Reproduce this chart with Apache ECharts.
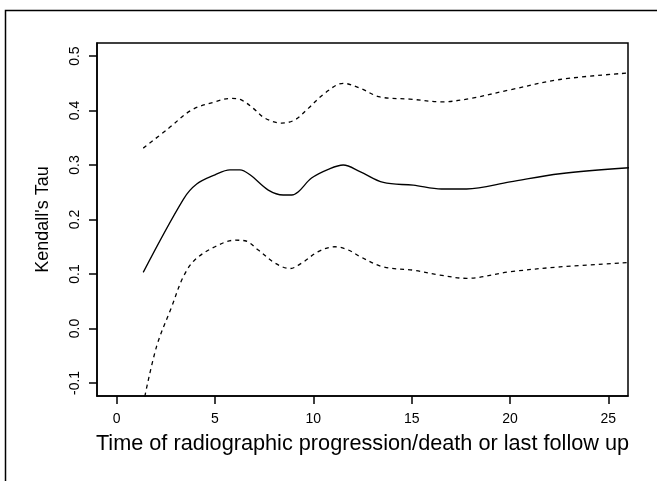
<!DOCTYPE html>
<html>
<head>
<meta charset="utf-8">
<script src="https://cdn.jsdelivr.net/npm/echarts@6/dist/echarts.min.js"></script>
<style>
html,body{margin:0;padding:0;background:#fff;}
#chart{width:657px;height:481px;}
</style>
</head>
<body>
<div id="chart"></div>
<script>
// Estimate of Kendall's tau (solid) with pointwise confidence band (dashed)
const tauX   = [1.35, 3.39, 4.07, 5.0, 5.76, 6.27, 6.78, 7.71, 8.47, 8.90, 9.24, 9.91, 10.76, 11.52, 12.37, 13.56, 15.08, 16.52, 17.79, 20.0, 22.54, 26.05];
const tauY   = [0.103, 0.237, 0.265, 0.282, 0.291, 0.291, 0.282, 0.254, 0.245, 0.245, 0.251, 0.276, 0.292, 0.300, 0.288, 0.268, 0.263, 0.256, 0.256, 0.269, 0.284, 0.295];
const upperX = [1.35, 2.63, 3.81, 5.0, 5.85, 6.36, 6.95, 7.54, 8.39, 9.07, 9.74, 10.59, 11.52, 12.37, 13.39, 14.91, 16.52, 17.96, 20.0, 22.54, 26.05];
const upperY = [0.331, 0.367, 0.401, 0.416, 0.4225, 0.419, 0.404, 0.386, 0.377, 0.383, 0.404, 0.432, 0.450, 0.441, 0.425, 0.421, 0.416, 0.422, 0.438, 0.457, 0.469];
const lowerX = [1.35, 2.03, 2.80, 3.39, 3.98, 5.0, 6.02, 6.52, 7.20, 8.05, 8.81, 9.41, 10.25, 11.10, 11.78, 12.37, 13.56, 15.08, 16.44, 17.79, 20.0, 22.54, 26.05];
const lowerY = [-0.139, -0.033, 0.040, 0.095, 0.126, 0.150, 0.162, 0.161, 0.144, 0.120, 0.110, 0.120, 0.141, 0.150, 0.144, 0.132, 0.113, 0.107, 0.098, 0.092, 0.104, 0.113, 0.121];

const xTicks = [0, 5, 10, 15, 20, 25];
const yTicks = [-0.1, 0.0, 0.1, 0.2, 0.3, 0.4, 0.5];
const xTitle = 'Time of radiographic progression/death or last follow up';
const yTitle = "Kendall's Tau";

function zip(xs, ys){ return xs.map((x,i)=>[x, ys[i]]); }

const FONT = '"Liberation Sans", Arial, Helvetica, sans-serif';
const chart = echarts.init(document.getElementById('chart'), null, {renderer:'canvas'});
chart.setOption({
  animation: false,
  backgroundColor: '#ffffff',
  graphic: [{
    type: 'rect', silent: true,
    shape: {x: 5.5, y: 10.5, width: 720, height: 520},
    style: {fill: 'none', stroke: '#000', lineWidth: 1.5}
  }],
  grid: {left: 97, right: 29, top: 43, bottom: 85, show: true, borderColor: '#000', borderWidth: 1.5, backgroundColor: 'transparent'},
  xAxis: {
    type: 'value', min: -1, max: 26,
    axisLine: {show: true, onZero: false, lineStyle: {color: '#000', width: 1.5}},
    axisTick: {show: true, customValues: xTicks, length: 8, lineStyle: {color: '#000', width: 1.5}},
    axisLabel: {show: true, customValues: xTicks, color: '#000', fontSize: 14, fontFamily: FONT, margin: 16},
    splitLine: {show: false},
    name: xTitle, nameLocation: 'middle', nameGap: 37,
    nameTextStyle: {color: '#000', fontSize: 21.7, fontFamily: FONT}
  },
  yAxis: {
    type: 'value', min: -0.124, max: 0.524,
    axisLine: {show: true, onZero: false, lineStyle: {color: '#000', width: 1.5}},
    axisTick: {show: true, customValues: yTicks, length: 8, lineStyle: {color: '#000', width: 1.5}},
    axisLabel: {show: true, customValues: yTicks, rotate: 90, color: '#000', fontSize: 14, fontFamily: FONT, margin: 15,
      formatter: v => Number(v).toFixed(1)},
    splitLine: {show: false},
    name: yTitle, nameLocation: 'middle', nameGap: 45, nameRotate: 90,
    nameTextStyle: {color: '#000', fontSize: 18, fontFamily: FONT}
  },
  series: [
    {type: 'line', data: zip(tauX, tauY), showSymbol: false, smooth: 0.35, clip: true,
     lineStyle: {color: '#000', width: 1.3, type: 'solid'}},
    {type: 'line', data: zip(upperX, upperY), showSymbol: false, smooth: 0.35, clip: true,
     lineStyle: {color: '#000', width: 1.3, type: [4, 4]}},
    {type: 'line', data: zip(lowerX, lowerY), showSymbol: false, smooth: 0.35, clip: true,
     lineStyle: {color: '#000', width: 1.3, type: [4, 4]}}
  ]
});
</script>
</body>
</html>
